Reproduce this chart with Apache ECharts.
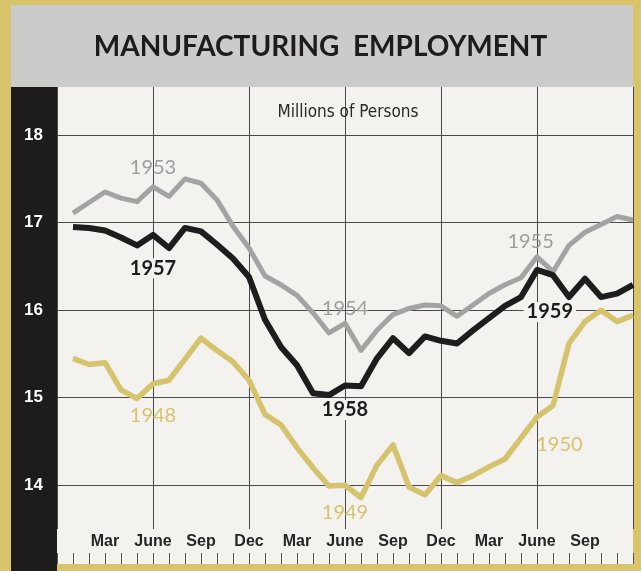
<!DOCTYPE html>
<html>
<head>
<meta charset="utf-8">
<script src="https://cdn.jsdelivr.net/npm/echarts@6/dist/echarts.min.js"></script>
<style>html,body{margin:0;padding:0;background:#d8c46a;}#c{width:641px;height:571px;}</style>
</head>
<body>
<div id="c"></div>
<script>
// Month positions: 1 = Jan of first year ... 36 = Dec of third year
const gray5355 = [17.11,17.23,17.35,17.28,17.24,17.41,17.30,17.50,17.45,17.26,16.96,16.71,
                  16.39,16.29,16.17,15.97,15.74,15.85,15.54,15.77,15.95,16.02,16.06,16.05,
                  15.93,16.06,16.19,16.29,16.37,16.61,16.44,16.74,16.89,16.98,17.07,17.03];
const black5759 = [16.95,16.94,16.91,16.83,16.74,16.86,16.71,16.94,16.90,16.75,16.59,16.38,
                   15.89,15.58,15.37,15.05,15.03,15.14,15.13,15.45,15.68,15.51,15.70,15.65,
                   15.62,15.77,15.91,16.05,16.15,16.46,16.40,16.15,16.36,16.15,16.19,16.29];
const gold4850 = [15.45,15.38,15.40,15.09,14.99,15.16,15.20,15.44,15.68,15.54,15.41,15.20,
                  14.81,14.69,14.43,14.20,13.99,14.00,13.86,14.23,14.46,13.98,13.89,14.11,
                  14.03,14.11,14.21,14.30,14.54,14.78,14.91,15.62,15.87,16.00,15.87,15.94];
const monthTickLabels = ['Mar','June','Sep','Dec','Mar','June','Sep','Dec','Mar','June','Sep'];
const yTickValues = [14,15,16,17,18];
const grayYears = [['1953',6,17.63],['1954',18,16.02],['1955',29.6,16.78]];
const blackYears = [['1957',6,16.48],['1958',18,14.86],['1959',30.8,15.98]];
const goldYears = [['1948',6,14.80],['1949',18,13.69],['1950',31.4,14.46]];

const toXY = arr => arr.map((v,i) => [i+1, v]);
const NARROW = '"DejaVu Sans Condensed","Liberation Sans",sans-serif';
const AXISFONT = '"Liberation Sans",Arial,sans-serif';
const YEARFONT = 'Lato, "Open Sans", sans-serif';

function yearMarks(list, color, weight, bg) {
  return {
    symbol: 'circle', symbolSize: 0, silent: true,
    label: {show: true, position: 'inside', formatter: p => p.name, color: color,
            fontFamily: YEARFONT, fontSize: 20, fontWeight: weight,
            backgroundColor: bg || 'transparent', padding: bg ? [0,3] : 0},
    data: list.map(d => ({name: d[0], coord: [d[1], d[2]]}))
  };
}

const chart = echarts.init(document.getElementById('c'), null, {renderer: 'canvas'});
chart.setOption({
  backgroundColor: '#d8c46a',
  animation: false,
  graphic: [
    {type: 'rect', z: -10, shape: {x: 11, y: 5, width: 622, height: 82}, style: {fill: '#cbcbc9'}},
    {type: 'rect', z: -10, shape: {x: 11, y: 87, width: 46, height: 484}, style: {fill: '#1d1b1b'}},
    {type: 'rect', z: -10, shape: {x: 57, y: 87, width: 576, height: 477}, style: {fill: '#f3f2ee'}}
  ],
  title: [
    {text: 'MANUFACTURING  EMPLOYMENT', left: 'center', top: 28,
     textStyle: {fontFamily: YEARFONT, fontWeight: 'bold', fontSize: 28, color: '#1d1b1b'}},
    {text: 'Millions of Persons', left: 343, top: 99, textAlign: 'center',
     textStyle: {fontFamily: NARROW, fontWeight: 'normal', fontSize: 17, color: '#2a2828'}}
  ],
  grid: {left: 57, right: 8, top: 87, height: 442, containLabel: false},
  xAxis: [
    {type: 'value', min: 0, max: 36, interval: 6, position: 'bottom',
     axisLine: {show: false}, axisTick: {show: false}, axisLabel: {show: false},
     splitLine: {show: true, lineStyle: {color: '#4a4a4a', width: 1}}},
    {type: 'value', min: 0, max: 36, interval: 3, position: 'bottom',
     axisLine: {show: false}, axisTick: {show: false}, splitLine: {show: false},
     axisLabel: {show: true, margin: 5, fontFamily: AXISFONT, fontWeight: 'bold', fontSize: 16, color: '#262424',
       formatter: v => monthTickLabels[v/3 - 1] || ''}},
    {type: 'value', min: 0, max: 36, interval: 1, position: 'bottom', offset: 35,
     axisLine: {show: false}, splitLine: {show: false}, axisLabel: {show: false},
     axisTick: {show: true, inside: true, length: 11, lineStyle: {color: '#555', width: 1}}}
  ],
  yAxis: {
    type: 'value', min: 13.5, max: 18.55,
    axisLine: {show: false},
    axisTick: {show: false, customValues: yTickValues},
    axisLabel: {show: true, customValues: yTickValues, margin: 14, color: '#ffffff',
                fontFamily: AXISFONT, fontWeight: 'bold', fontSize: 17},
    splitLine: {show: true, lineStyle: {color: '#4a4a4a', width: 1}}
  },
  series: [
    {type: 'line', name: '1948-50', data: toXY(gold4850), showSymbol: false, symbol: 'none', z: 3,
     lineStyle: {color: '#d5c36e', width: 5.5, join: 'round'}, markPoint: yearMarks(goldYears, '#d4c470', 'normal')},
    {type: 'line', name: '1953-55', data: toXY(gray5355), showSymbol: false, symbol: 'none', z: 4,
     lineStyle: {color: '#a3a3a3', width: 5, join: 'round'}, markPoint: yearMarks(grayYears, '#9d9d9d', 'normal')},
    {type: 'line', name: '1957-59', data: toXY(black5759), showSymbol: false, symbol: 'none', z: 5,
     lineStyle: {color: '#1e1c1c', width: 6, join: 'round'}, markPoint: yearMarks(blackYears, '#1e1c1c', 'bold', '#f3f2ee')}
  ]
});
</script>
</body>
</html>
